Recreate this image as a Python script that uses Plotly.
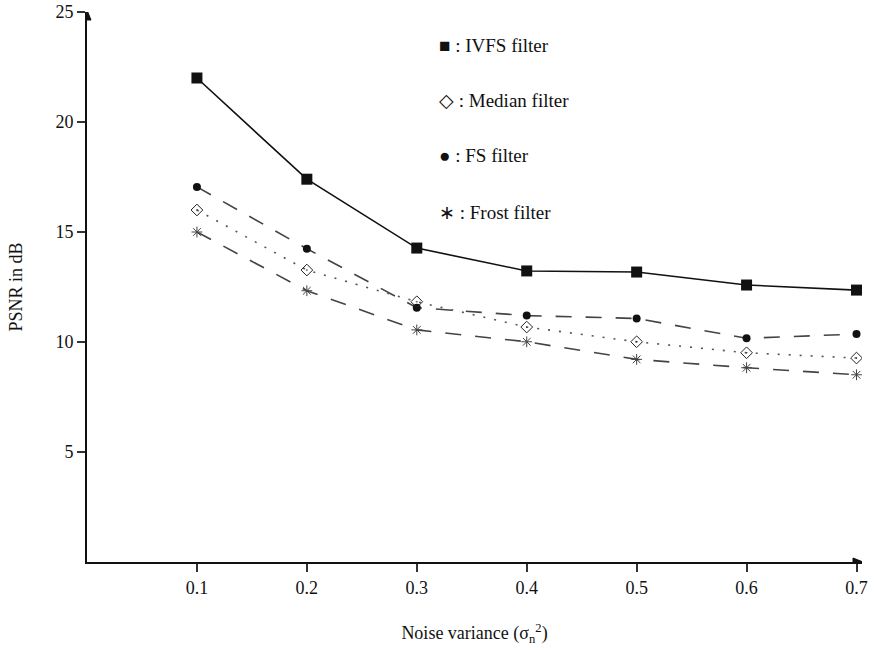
import plotly.graph_objects as go

x_vals = [0.1, 0.2, 0.3, 0.4, 0.5, 0.6, 0.7]
ivfs = [22.0, 17.4, 14.27, 13.23, 13.18, 12.59, 12.36]
median = [16.0, 13.27, 11.83, 10.68, 10.01, 9.51, 9.27]
fs = [17.05, 14.24, 11.56, 11.2, 11.07, 10.17, 10.36]
frost = [15.0, 12.33, 10.55, 10.01, 9.21, 8.83, 8.51]

legend_labels = ["■ : IVFS filter", "◇ : Median filter", "● : FS filter", "∗ : Frost filter"]
x_ticks = [0.1, 0.2, 0.3, 0.4, 0.5, 0.6, 0.7]
y_ticks = [5, 10, 15, 20, 25]

FONT = "Liberation Serif"
fig = go.Figure()

fig.add_trace(go.Scatter(x=x_vals, y=ivfs, mode="lines+markers",
                         line=dict(color="#111", width=1.6),
                         marker=dict(symbol="square", size=11, color="#111")))
fig.add_trace(go.Scatter(x=x_vals, y=fs, mode="lines+markers",
                         line=dict(color="#444", width=1.6, dash="16px,14px"),
                         marker=dict(symbol="circle", size=8, color="#111")))
fig.add_trace(go.Scatter(x=x_vals, y=median, mode="lines+markers",
                         line=dict(color="#555", width=1.6, dash="2px,9px"),
                         marker=dict(symbol="diamond-open-dot", size=9, color="#222",
                                     line=dict(width=1))))
fig.add_trace(go.Scatter(x=x_vals, y=frost, mode="lines+markers",
                         line=dict(color="#444", width=1.6, dash="16px,14px"),
                         marker=dict(symbol="asterisk-open", size=9,
                                     line=dict(color="#222", width=1))))

leg_y = [23.5, 21.0, 18.5, 15.9]
for lab, yy in zip(legend_labels, leg_y):
    fig.add_annotation(x=0.318, y=yy, xref="x", yref="y", text=lab, showarrow=False,
                       xanchor="left", font=dict(family=FONT, size=19, color="#111"))

# axis arrowheads (pixel-sized triangles anchored at axis ends)
fig.add_shape(type="path", xref="x", yref="y", xsizemode="pixel", ysizemode="pixel",
              xanchor=0, yanchor=25, path="M -4,-8 L 4,-8 L 0,2 Z",
              fillcolor="#111", line=dict(color="#111", width=1))
fig.add_shape(type="path", xref="x", yref="y", xsizemode="pixel", ysizemode="pixel",
              xanchor=0.705, yanchor=0, path="M -9,-4 L -9,4 L 1,0 Z",
              fillcolor="#111", line=dict(color="#111", width=1))

fig.update_layout(
    width=877, height=654,
    margin=dict(l=87, r=15, t=12, b=92, autoexpand=False),
    plot_bgcolor="white", paper_bgcolor="white",
    showlegend=False,
    font=dict(family=FONT, size=18, color="#111"),
    xaxis=dict(range=[0, 0.705], tickvals=x_ticks, ticktext=[str(v) for v in x_ticks],
               showgrid=False, zeroline=False, showline=True, linecolor="#111", linewidth=2,
               ticks="outside", ticklen=8, tickwidth=1.5, tickcolor="#333",
               tickfont=dict(family=FONT, size=18),
               title=dict(text="Noise variance (σ<sub>n</sub><sup>2</sup>)", standoff=30,
                          font=dict(family=FONT, size=18))),
    yaxis=dict(range=[0, 25], tickvals=y_ticks, ticktext=[str(v) for v in y_ticks],
               showgrid=False, zeroline=False, showline=True, linecolor="#111", linewidth=2,
               ticks="outside", ticklen=8, tickwidth=1.5, tickcolor="#333",
               tickfont=dict(family=FONT, size=18),
               title=dict(text="PSNR in dB", standoff=28, font=dict(family=FONT, size=18))),
)

fig.write_html("out.html")
